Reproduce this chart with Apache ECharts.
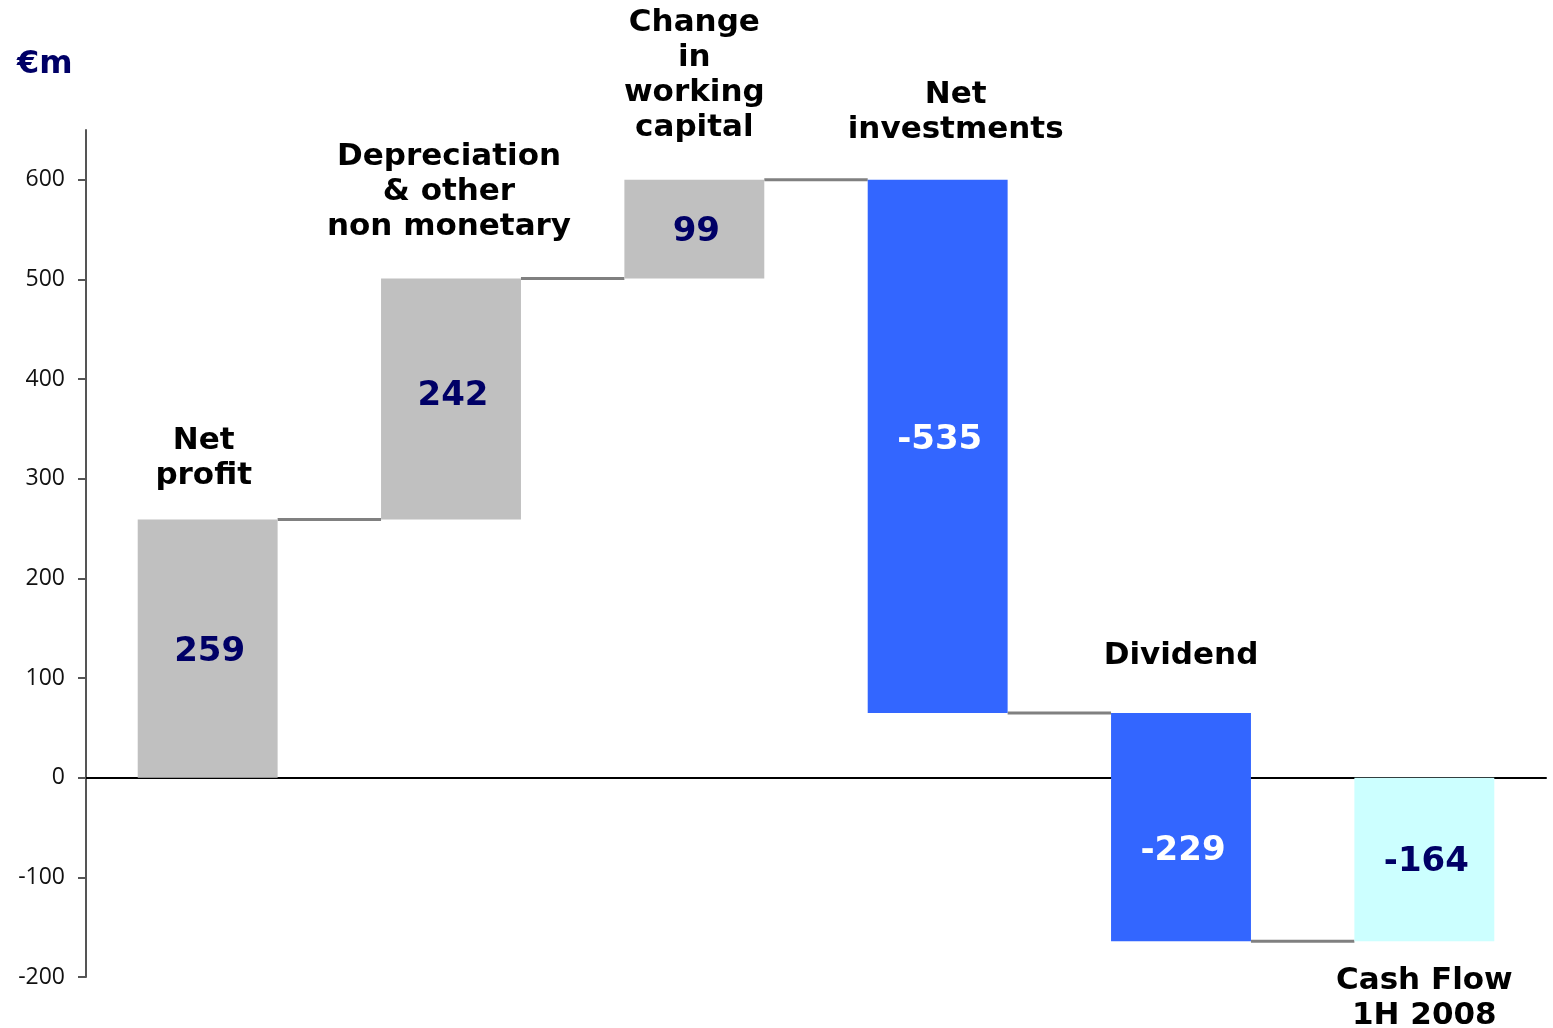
<!DOCTYPE html>
<html>
<head>
<meta charset="utf-8">
<script src="https://cdn.jsdelivr.net/npm/echarts@6/dist/echarts.min.js"></script>
<style>
  html, body { margin: 0; padding: 0; background: #fff; }
  #cashChart { width: 1553px; height: 1028px; }
</style>
</head>
<body>
<div id="cashChart"></div>
<script>
// waterfall: cash flow 1H 2008, in €m
var categories = ['Net\nprofit', 'Depreciation\n& other\nnon monetary', 'Change\nin\nworking\ncapital', 'Net\ninvestments', 'Dividend', 'Cash Flow\n1H 2008'];
var changes = [259, 242, 99, -535, -229, -164];
var isTotal = [false, false, false, false, false, true];
var yTicks = [-200, -100, 0, 100, 200, 300, 400, 500, 600];

// look of each step
var colors = ['#C0C0C0', '#C0C0C0', '#C0C0C0', '#3366FF', '#3366FF', '#CCFFFF'];
var labelColors = ['#000066', '#000066', '#000066', '#FFFFFF', '#FFFFFF', '#000066'];
var nameGap = [26, 34, 34, 32, 39, 22];
var nameShift = [-4, -2, 0, 18, 0, 0];
var valueShift = [4, -3, 3, -6, 24, 3];
var catFont = '"DejaVu Sans", Verdana, sans-serif';

// running levels for each step
var running = 0;
var steps = changes.map(function (v, i) {
    var lo, hi;
    if (isTotal[i]) {
        lo = 0; hi = v;
    } else {
        lo = running; hi = running + v;
        running = hi;
    }
    return [i, lo, hi, v];
});

var links = [];
for (var i = 0; i < steps.length - 1; i++) {
    links.push([i, steps[i][2]]);
}

function renderStep(params, api) {
    var idx = api.value(0);
    var a = api.coord([idx, api.value(1)]);
    var b = api.coord([idx, api.value(2)]);
    var w = api.size([1, 0])[0] * 0.575;
    var top = Math.min(a[1], b[1]);
    var bottom = Math.max(a[1], b[1]);
    var x = a[0];
    var below = isTotal[idx];
    return {
        type: 'group',
        children: [{
            type: 'rect',
            shape: { x: x - w / 2, y: top, width: w, height: bottom - top },
            style: { fill: colors[idx] }
        }, {
            type: 'text',
            z2: 10,
            style: {
                x: x + 2,
                y: (top + bottom) / 2 + valueShift[idx],
                text: String(api.value(3)),
                fill: labelColors[idx],
                font: 'bold 34px ' + catFont,
                align: 'center',
                verticalAlign: 'middle'
            }
        }, {
            type: 'text',
            z2: 10,
            style: {
                x: x + nameShift[idx],
                y: below ? bottom + nameGap[idx] : top - nameGap[idx],
                text: categories[idx],
                fill: '#000',
                font: 'bold 31px ' + catFont,
                lineHeight: 35,
                align: 'center',
                verticalAlign: below ? 'top' : 'bottom'
            }
        }]
    };
}

function renderLink(params, api) {
    var idx = api.value(0);
    var p = api.coord([idx, api.value(1)]);
    var q = api.coord([idx + 1, api.value(1)]);
    var half = api.size([1, 0])[0] * 0.575 / 2;
    return {
        type: 'line',
        shape: { x1: p[0] + half, y1: p[1], x2: q[0] - half, y2: q[1] },
        style: { stroke: '#808080', lineWidth: 3 }
    };
}

var chart = echarts.init(document.getElementById('cashChart'));
chart.setOption({
    animation: false,
    title: {
        text: '€m',
        left: 12,
        top: 44,
        textStyle: { color: '#000066', fontSize: 32, fontWeight: 'bold', fontFamily: catFont }
    },
    grid: { left: 86, right: 7, top: 130, bottom: 51, containLabel: false },
    xAxis: {
        type: 'category',
        data: categories,
        axisLabel: { show: false },
        axisTick: { show: false },
        axisLine: { onZero: true, lineStyle: { color: '#000', width: 2 } }
    },
    yAxis: {
        type: 'value',
        min: -200,
        max: 650,
        splitLine: { show: false },
        axisLine: { show: true, lineStyle: { color: '#555', width: 2 } },
        axisTick: { show: true, length: 8, customValues: yTicks, lineStyle: { color: '#555', width: 2 } },
        axisLabel: {
            customValues: yTicks,
            color: '#111',
            fontSize: 23,
            fontFamily: '"Open Sans", sans-serif',
            margin: 21
        }
    },
    series: [{
        type: 'custom',
        renderItem: renderLink,
        data: links,
        z: 1
    }, {
        type: 'custom',
        renderItem: renderStep,
        data: steps,
        z: 2
    }]
});
</script>
</body>
</html>
